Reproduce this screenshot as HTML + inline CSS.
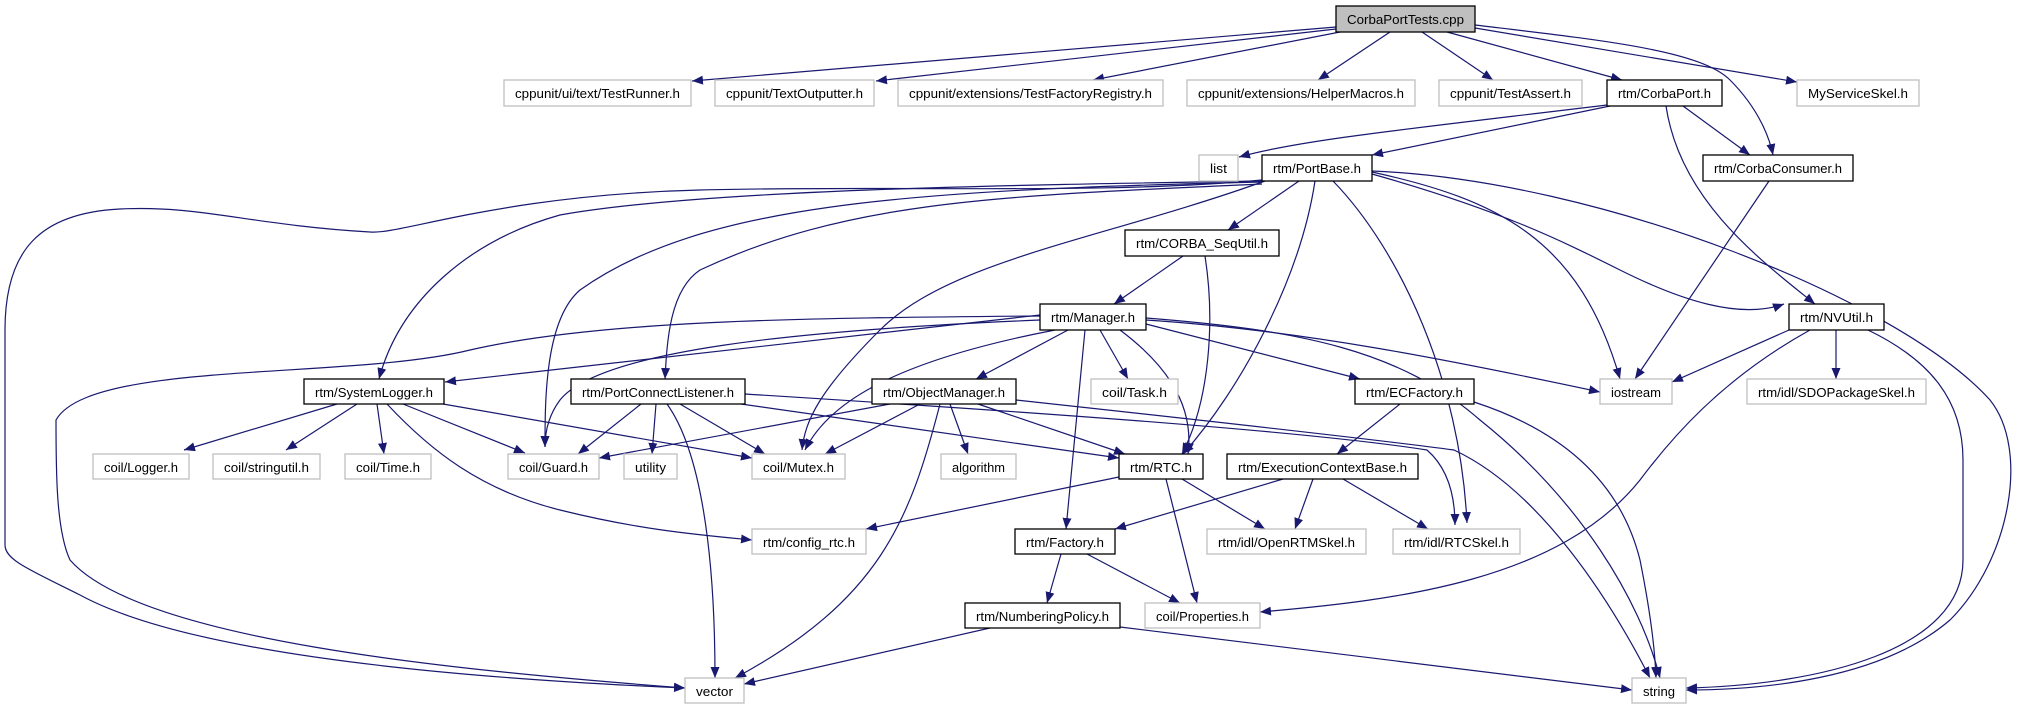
<!DOCTYPE html>
<html><head><meta charset="utf-8"><style>
html,body{margin:0;padding:0;background:#fff;}
svg{display:block;}
text{font-family:"Liberation Sans",sans-serif;font-size:13px;fill:#000;}
.e{fill:none;stroke:#191970;stroke-width:1.2;marker-end:url(#a);}
.n{fill:#fff;stroke:#000;stroke-width:1.3;}
.g{fill:#fff;stroke:#bfbfbf;stroke-width:1.3;}
</style></head><body>
<svg width="2019" height="709" viewBox="0 0 2019 709" xmlns="http://www.w3.org/2000/svg">
<defs><marker id="a" markerUnits="userSpaceOnUse" markerWidth="12" markerHeight="9" refX="11" refY="4.5" orient="auto"><path d="M0,0 L11,4.5 L0,9 z" fill="#191970"/></marker></defs>

<!-- edges -->
<path class="e" d="M1336,27 L692,81"/>
<path class="e" d="M1336,29 L876,81"/>
<path class="e" d="M1340,32 L1093,80"/>
<path class="e" d="M1390,32 L1318,80"/>
<path class="e" d="M1422,32 L1493,80"/>
<path class="e" d="M1447,32 L1622,80"/>
<path class="e" d="M1475,28 L1797,82"/>
<path class="e" d="M1475,25 C1600,40 1700,50 1730,80 C1760,110 1770,140 1773,155"/>
<path class="e" d="M1607,105 C1400,130 1300,140 1239,157"/>
<path class="e" d="M1610,106 L1372,155"/>
<path class="e" d="M1683,106 L1750,155"/>
<path class="e" d="M1666,106 C1680,200 1760,260 1815,304"/>
<path class="e" d="M1769,181 L1635,379"/>
<!-- PortBase -->
<path class="e" d="M1262,180 C1100,195 900,185 700,190 C500,195 400,235 370,232 C250,225 200,205 120,209 C40,213 5,250 5,330 L5,545 C5,560 30,570 80,595 C200,660 500,680 685,688"/>
<path class="e" d="M1262,181 C1000,185 700,190 560,215 C470,240 400,300 379,379"/>
<path class="e" d="M1262,182 C900,190 700,205 580,290 C545,320 545,400 545,447"/>
<path class="e" d="M1262,184 C1000,196 850,200 700,270 C670,290 667,340 665,379"/>
<path class="e" d="M1265,181 C1100,240 950,260 880,330 C820,390 805,420 802,450"/>
<path class="e" d="M1299,181 L1228,230"/>
<path class="e" d="M1315,181 C1300,280 1240,390 1183,454"/>
<path class="e" d="M1333,181 C1400,250 1460,380 1467,523"/>
<path class="e" d="M1372,172 C1500,200 1580,240 1620,379"/>
<path class="e" d="M1372,174 C1500,210 1560,240 1620,270 C1680,300 1740,320 1784,304"/>
<path class="e" d="M1372,171 C1600,180 1900,300 1990,400 C2030,450 2010,560 1950,620 C1880,680 1760,690 1686,690"/>
<path class="e" d="M1183,256 L1114,304"/>
<path class="e" d="M1205,256 C1215,320 1210,400 1182,454"/>
<!-- Manager -->
<path class="e" d="M1040,316 C800,318 600,320 470,350 C350,380 90,360 56,420 C56,470 56,530 70,560 C140,640 450,670 685,688"/>
<path class="e" d="M1040,315 L445,382"/>
<path class="e" d="M1040,320 C800,330 600,350 560,400 C545,420 545,440 545,447"/>
<path class="e" d="M1055,330 C900,360 830,400 805,450"/>
<path class="e" d="M1068,330 L976,379"/>
<path class="e" d="M1100,330 L1128,379"/>
<path class="e" d="M1120,330 C1160,360 1195,400 1188,454"/>
<path class="e" d="M1085,330 L1066,529"/>
<path class="e" d="M1146,324 L1360,379"/>
<path class="e" d="M1146,320 C1300,330 1450,360 1600,392"/>
<path class="e" d="M1146,318 C1300,330 1400,350 1480,420 C1580,500 1640,600 1660,678"/>
<!-- NVUtil -->
<path class="e" d="M1789,330 L1672,382"/>
<path class="e" d="M1836,330 L1836,379"/>
<path class="e" d="M1810,330 C1720,380 1670,440 1640,480 C1560,580 1400,600 1260,612"/>
<path class="e" d="M1868,330 C1930,360 1963,400 1963,460 L1963,560 C1963,650 1820,685 1686,688"/>
<!-- SystemLogger -->
<path class="e" d="M337,404 L184,450"/>
<path class="e" d="M357,404 L286,450"/>
<path class="e" d="M377,404 L384,454"/>
<path class="e" d="M403,404 L525,453"/>
<path class="e" d="M443,404 L752,458"/>
<path class="e" d="M387,404 C430,450 480,490 560,510 C640,530 700,535 752,540"/>
<!-- PortConnectListener -->
<path class="e" d="M641,404 L578,454"/>
<path class="e" d="M656,404 L652,454"/>
<path class="e" d="M680,404 L765,454"/>
<path class="e" d="M667,404 C700,450 715,550 715,678"/>
<path class="e" d="M741,404 L1119,458"/>
<path class="e" d="M745,394 C1000,410 1300,430 1427,450 C1450,470 1455,500 1455,525"/>
<!-- ObjectManager -->
<path class="e" d="M890,404 L599,458"/>
<path class="e" d="M920,404 L825,454"/>
<path class="e" d="M950,404 L968,454"/>
<path class="e" d="M940,404 C910,520 880,600 735,678"/>
<path class="e" d="M978,404 L1125,454"/>
<path class="e" d="M1016,400 C1200,420 1380,440 1454,450 C1540,490 1610,600 1650,678"/>
<!-- RTC -->
<path class="e" d="M1119,477 L866,529"/>
<path class="e" d="M1182,479 L1265,529"/>
<path class="e" d="M1166,479 L1197,603"/>
<!-- ExecutionContextBase -->
<path class="e" d="M1283,479 L1115,529"/>
<path class="e" d="M1313,479 L1295,529"/>
<path class="e" d="M1343,479 L1428,529"/>
<!-- ECFactory -->
<path class="e" d="M1400,404 L1337,454"/>
<path class="e" d="M1474,402 C1560,430 1620,480 1640,560 C1650,610 1655,650 1656,678"/>
<!-- Factory -->
<path class="e" d="M1061,554 L1047,603"/>
<path class="e" d="M1087,554 L1180,603"/>
<!-- NumberingPolicy -->
<path class="e" d="M990,628 L744,684"/>
<path class="e" d="M1120,627 L1632,690"/>

<!-- nodes -->
<g>
<rect x="1336" y="6" width="139" height="26" fill="#bfbfbf" stroke="#000" stroke-width="1.3"/>
<text x="1405.5" y="24" text-anchor="middle" textLength="117" lengthAdjust="spacingAndGlyphs">CorbaPortTests.cpp</text>

<rect class="g" x="504" y="80" width="187" height="26"/><text x="597.5" y="98" text-anchor="middle" textLength="165" lengthAdjust="spacingAndGlyphs">cppunit/ui/text/TestRunner.h</text>
<rect class="g" x="715" y="80" width="159" height="26"/><text x="794.5" y="98" text-anchor="middle" textLength="137" lengthAdjust="spacingAndGlyphs">cppunit/TextOutputter.h</text>
<rect class="g" x="898" y="80" width="265" height="26"/><text x="1030.5" y="98" text-anchor="middle" textLength="243" lengthAdjust="spacingAndGlyphs">cppunit/extensions/TestFactoryRegistry.h</text>
<rect class="g" x="1187" y="80" width="228" height="26"/><text x="1301" y="98" text-anchor="middle" textLength="206" lengthAdjust="spacingAndGlyphs">cppunit/extensions/HelperMacros.h</text>
<rect class="g" x="1439" y="80" width="143" height="26"/><text x="1510.5" y="98" text-anchor="middle" textLength="121" lengthAdjust="spacingAndGlyphs">cppunit/TestAssert.h</text>
<rect class="n" x="1607" y="80" width="115" height="26"/><text x="1664.5" y="98" text-anchor="middle" textLength="93" lengthAdjust="spacingAndGlyphs">rtm/CorbaPort.h</text>
<rect class="g" x="1797" y="80" width="122" height="26"/><text x="1858" y="98" text-anchor="middle" textLength="100" lengthAdjust="spacingAndGlyphs">MyServiceSkel.h</text>

<rect class="g" x="1199" y="155" width="39" height="26"/><text x="1218.5" y="173" text-anchor="middle" textLength="17" lengthAdjust="spacingAndGlyphs">list</text>
<rect class="n" x="1262" y="155" width="110" height="26"/><text x="1317" y="173" text-anchor="middle" textLength="88" lengthAdjust="spacingAndGlyphs">rtm/PortBase.h</text>
<rect class="n" x="1703" y="155" width="150" height="26"/><text x="1778" y="173" text-anchor="middle" textLength="128" lengthAdjust="spacingAndGlyphs">rtm/CorbaConsumer.h</text>

<rect class="n" x="1125" y="230" width="154" height="26"/><text x="1202" y="248" text-anchor="middle" textLength="132" lengthAdjust="spacingAndGlyphs">rtm/CORBA_SeqUtil.h</text>

<rect class="n" x="1040" y="304" width="106" height="26"/><text x="1093" y="322" text-anchor="middle" textLength="84" lengthAdjust="spacingAndGlyphs">rtm/Manager.h</text>
<rect class="n" x="1789" y="304" width="95" height="26"/><text x="1836.5" y="322" text-anchor="middle" textLength="73" lengthAdjust="spacingAndGlyphs">rtm/NVUtil.h</text>

<rect class="n" x="304" y="379" width="140" height="25"/><text x="374" y="397" text-anchor="middle" textLength="118" lengthAdjust="spacingAndGlyphs">rtm/SystemLogger.h</text>
<rect class="n" x="571" y="379" width="174" height="25"/><text x="658" y="397" text-anchor="middle" textLength="152" lengthAdjust="spacingAndGlyphs">rtm/PortConnectListener.h</text>
<rect class="n" x="872" y="379" width="144" height="25"/><text x="944" y="397" text-anchor="middle" textLength="122" lengthAdjust="spacingAndGlyphs">rtm/ObjectManager.h</text>
<rect class="g" x="1091" y="379" width="87" height="25"/><text x="1134.5" y="397" text-anchor="middle" textLength="65" lengthAdjust="spacingAndGlyphs">coil/Task.h</text>
<rect class="n" x="1355" y="379" width="119" height="25"/><text x="1414.5" y="397" text-anchor="middle" textLength="97" lengthAdjust="spacingAndGlyphs">rtm/ECFactory.h</text>
<rect class="g" x="1600" y="379" width="72" height="25"/><text x="1636" y="397" text-anchor="middle" textLength="50" lengthAdjust="spacingAndGlyphs">iostream</text>
<rect class="g" x="1747" y="379" width="179" height="25"/><text x="1836.5" y="397" text-anchor="middle" textLength="157" lengthAdjust="spacingAndGlyphs">rtm/idl/SDOPackageSkel.h</text>

<rect class="g" x="93" y="454" width="96" height="25"/><text x="141" y="472" text-anchor="middle" textLength="74" lengthAdjust="spacingAndGlyphs">coil/Logger.h</text>
<rect class="g" x="213" y="454" width="107" height="25"/><text x="266.5" y="472" text-anchor="middle" textLength="85" lengthAdjust="spacingAndGlyphs">coil/stringutil.h</text>
<rect class="g" x="345" y="454" width="86" height="25"/><text x="388" y="472" text-anchor="middle" textLength="64" lengthAdjust="spacingAndGlyphs">coil/Time.h</text>
<rect class="g" x="508" y="454" width="91" height="25"/><text x="553.5" y="472" text-anchor="middle" textLength="69" lengthAdjust="spacingAndGlyphs">coil/Guard.h</text>
<rect class="g" x="624" y="454" width="53" height="25"/><text x="650.5" y="472" text-anchor="middle" textLength="31" lengthAdjust="spacingAndGlyphs">utility</text>
<rect class="g" x="752" y="454" width="93" height="25"/><text x="798.5" y="472" text-anchor="middle" textLength="71" lengthAdjust="spacingAndGlyphs">coil/Mutex.h</text>
<rect class="g" x="941" y="454" width="75" height="25"/><text x="978.5" y="472" text-anchor="middle" textLength="53" lengthAdjust="spacingAndGlyphs">algorithm</text>
<rect class="n" x="1119" y="454" width="84" height="25"/><text x="1161" y="472" text-anchor="middle" textLength="62" lengthAdjust="spacingAndGlyphs">rtm/RTC.h</text>
<rect class="n" x="1227" y="454" width="191" height="25"/><text x="1322.5" y="472" text-anchor="middle" textLength="169" lengthAdjust="spacingAndGlyphs">rtm/ExecutionContextBase.h</text>

<rect class="g" x="752" y="529" width="114" height="25"/><text x="809" y="547" text-anchor="middle" textLength="92" lengthAdjust="spacingAndGlyphs">rtm/config_rtc.h</text>
<rect class="n" x="1015" y="529" width="100" height="25"/><text x="1065" y="547" text-anchor="middle" textLength="78" lengthAdjust="spacingAndGlyphs">rtm/Factory.h</text>
<rect class="g" x="1207" y="529" width="159" height="25"/><text x="1286.5" y="547" text-anchor="middle" textLength="137" lengthAdjust="spacingAndGlyphs">rtm/idl/OpenRTMSkel.h</text>
<rect class="g" x="1393" y="529" width="127" height="25"/><text x="1456.5" y="547" text-anchor="middle" textLength="105" lengthAdjust="spacingAndGlyphs">rtm/idl/RTCSkel.h</text>

<rect class="n" x="965" y="603" width="155" height="25"/><text x="1042.5" y="621" text-anchor="middle" textLength="133" lengthAdjust="spacingAndGlyphs">rtm/NumberingPolicy.h</text>
<rect class="g" x="1145" y="603" width="115" height="25"/><text x="1202.5" y="621" text-anchor="middle" textLength="93" lengthAdjust="spacingAndGlyphs">coil/Properties.h</text>

<rect class="g" x="685" y="678" width="59" height="25"/><text x="714.5" y="696" text-anchor="middle" textLength="37" lengthAdjust="spacingAndGlyphs">vector</text>
<rect class="g" x="1632" y="678" width="54" height="25"/><text x="1659" y="696" text-anchor="middle" textLength="32" lengthAdjust="spacingAndGlyphs">string</text>
</g>
</svg>
</body></html>
